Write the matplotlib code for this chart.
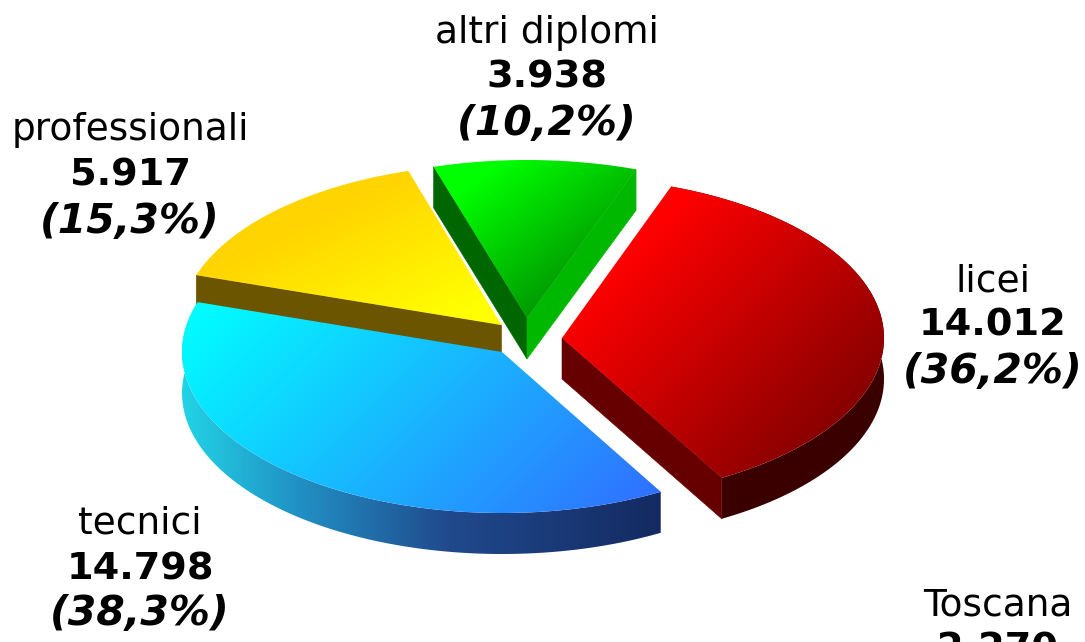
import numpy as np
import matplotlib
matplotlib.use('Agg')
from matplotlib import pyplot as plt
from matplotlib.patches import Polygon
from matplotlib.colors import to_rgb

# Diplomati per tipo di scuola
categories = ['licei', 'tecnici', 'professionali', 'altri diplomi']
values = [14012, 14798, 5917, 3938]
value_labels = ['14.012', '14.798', '5.917', '3.938']
percent_labels = ['(36,2%)', '(38,3%)', '(15,3%)', '(10,2%)']
region_label = 'Toscana'
region_value = '2.270'

W, H = 1085, 642
DEPTH = 41
START = 70.2

# apex of each exploded slice and its radii, in pixels
centers = [(562, 338), (502, 352), (501.5, 325), (527, 318)]
radius_x = [322, 320, 321, 322]
radius_y = [161, 161, 161, 158]

# gradient of top face: direction, from, to, colours
top_fill = [
    ((1, 1), [880, 1260], ['#ff0000', '#880000']),
    ((1, 1), [500, 1154], ['#00ffff', '#3070ff']),
    ((0.43, 0.9), [331, 480], ['#ffd400', '#ffff00']),
    ((0.6, 0.8), [430, 570], ['#00ff00', '#009b00']),
]
rim_fill = [
    ([560, 884], ['#3a0000', '#3a0000']),
    ([182, 300, 450, 662], ['#22d4e6', '#2090c4', '#20498c', '#142a62']),
    None,
    None,
]
wall_start = [None, None, '#6b5500', '#006600']
wall_end = ['#660000', None, None, '#00b800']
draw_order = [2, 3, 0, 1]

# label centre x, then y of the three lines
label_x = [993, 140, 130, 547]
label_y = [(281, 325, 372), (523, 569, 614), (130, 175, 222), (33, 77, 124)]
FS_NAME = 27
FS_VALUE = 27.5
FS_PCT = 29.5

yy, xx = np.mgrid[0:H, 0:W]
xx = xx + 0.5
yy = yy + 0.5


def coverage(pts):
    # antialiased mask of the polygon, drawn on a scratch canvas
    f = plt.figure(figsize=(W / 100, H / 100), dpi=100, facecolor='black')
    a = f.add_axes([0, 0, 1, 1])
    a.set_axis_off()
    a.add_patch(Polygon(pts, closed=True, facecolor='white', edgecolor='none'))
    a.set_xlim(0, W)
    a.set_ylim(H, 0)
    f.canvas.draw()
    mask = np.asarray(f.canvas.buffer_rgba())[:, :, 0] / 255.0
    plt.close(f)
    return mask


def gradient(pts, direction, pos, colors, z):
    t = xx * direction[0] + yy * direction[1]
    rgb = np.array([to_rgb(c) for c in colors])
    img = np.dstack([np.interp(t, pos, rgb[:, i]) for i in range(3)] + [coverage(pts)])
    ax.imshow(img, extent=(0, W, H, 0), zorder=z, interpolation='nearest', aspect='auto')


def arc(c, rx, ry, a1, a2):
    a = np.radians(np.linspace(a1, a2, 200))
    return np.column_stack([c[0] + rx * np.cos(a), c[1] - ry * np.sin(a)])


fig = plt.figure(figsize=(W / 100, H / 100), dpi=100)
ax = fig.add_axes([0, 0, 1, 1])
ax.set_axis_off()

total = sum(values)
ends = START - np.cumsum(values) / total * 360
starts = np.r_[START, ends[:-1]]

for z, i in enumerate(draw_order):
    c = np.array(centers[i])
    top = arc(c, radius_x[i], radius_y[i], starts[i], ends[i])
    down = np.array([0, DEPTH])
    base = z * 10 + 1
    if rim_fill[i] is not None:
        pos, cols = rim_fill[i]
        gradient(np.vstack([top, (top + down)[::-1]]), (1, 0), pos, cols, base)
    for col, p in ((wall_start[i], top[0]), (wall_end[i], top[-1])):
        if col is not None:
            ax.add_patch(Polygon([c, p, p + down, c + down], closed=True,
                                 facecolor=col, edgecolor=col, lw=0.4,
                                 zorder=base + 1))
    d, pos, cols = top_fill[i]
    gradient(np.vstack([c, top]), d, pos, cols, base + 2)

for i in range(len(categories)):
    x = label_x[i]
    y0, y1, y2 = label_y[i]
    ax.text(x, y0, categories[i], fontsize=FS_NAME, ha='center', va='center', zorder=100)
    ax.text(x, y1, value_labels[i], fontsize=FS_VALUE, fontweight='bold', ha='center',
            va='center', zorder=100)
    ax.text(x, y2, percent_labels[i], fontsize=FS_PCT, fontweight='bold', style='italic',
            ha='center', va='center', zorder=100)

ax.text(998, 606, region_label, fontsize=FS_NAME, ha='center', va='center', zorder=100)
ax.text(998, 650, region_value, fontsize=FS_VALUE, fontweight='bold', ha='center',
        va='center', zorder=100)

ax.set_xlim(0, W)
ax.set_ylim(H, 0)
fig.savefig('out.png', dpi=100, facecolor='white')
